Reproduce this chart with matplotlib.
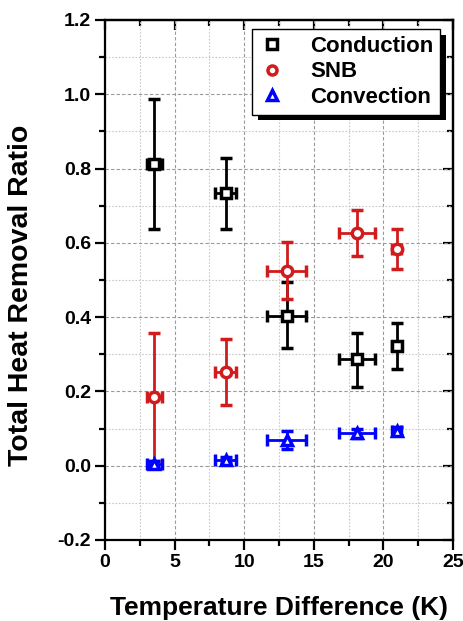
import matplotlib
matplotlib.use("Agg")
import matplotlib.pyplot as plt
import matplotlib.patheffects as pe
from matplotlib.lines import Line2D
from matplotlib.ticker import MultipleLocator, FormatStrFormatter

plt.rcParams['font.family'] = ['Liberation Sans', 'DejaVu Sans']
plt.rcParams['font.weight'] = 'bold'

# Data
temp_diff = [3.54, 8.67, 13.05, 18.13, 20.95]
temp_err = [0.55, 0.75, 1.4, 1.3, 0.35]

conduction = [0.811, 0.733, 0.403, 0.286, 0.323]
conduction_err_low = [0.175, 0.096, 0.087, 0.073, 0.063]
conduction_err_high = [0.176, 0.096, 0.091, 0.070, 0.060]

snb = [0.184, 0.252, 0.525, 0.627, 0.583]
snb_err = [0.172, 0.088, 0.077, 0.062, 0.053]

convection = [0.004, 0.015, 0.069, 0.087, 0.094]
convection_err = [0.008, 0.008, 0.025, 0.012, 0.010]

labels = ['Conduction', 'SNB', 'Convection']
colors = ['#000000', '#d01c1c', '#0000ff']

fig = plt.figure(figsize=(4.64, 6.21), dpi=100)
ax = fig.add_axes([105/464, 81/621, 348/464, 520/621])

common = dict(linestyle='none', markersize=7.5, markeredgewidth=2.5,
              markerfacecolor='white', elinewidth=2, capsize=4.5, capthick=2)

ax.errorbar(temp_diff, conduction, yerr=[conduction_err_low, conduction_err_high],
            xerr=temp_err, marker='s', color=colors[0], zorder=3, **common)
ax.errorbar(temp_diff, snb, yerr=snb_err, xerr=temp_err,
            marker='o', color=colors[1], zorder=4, **common)
ax.errorbar(temp_diff, convection, yerr=convection_err, xerr=temp_err,
            marker='^', color=colors[2], zorder=5, **common)

ax.set_xlim(0, 25)
ax.set_ylim(-0.2, 1.2)
ax.xaxis.set_major_locator(MultipleLocator(5))
ax.xaxis.set_minor_locator(MultipleLocator(2.5))
ax.yaxis.set_major_locator(MultipleLocator(0.2))
ax.yaxis.set_minor_locator(MultipleLocator(0.1))
ax.yaxis.set_major_formatter(FormatStrFormatter('%.1f'))

ax.grid(which='major', color='#9a9a9a', linestyle=(0, (3, 2)), linewidth=0.8)
ax.grid(which='minor', color='#c8c8c8', linestyle=(0, (1.5, 1.5)), linewidth=0.8)
ax.set_axisbelow(True)

for s in ax.spines.values():
    s.set_linewidth(1.6)

ax.tick_params(which='major', direction='out', length=7, width=1.6,
               labelsize=14, top=False, right=False, pad=3)
ax.tick_params(which='minor', direction='out', length=4, width=1.6,
               top=False, right=False)
for lab in ax.get_xticklabels() + ax.get_yticklabels():
    lab.set_fontweight('bold')

secx = ax.secondary_xaxis('top')
secx.xaxis.set_major_locator(MultipleLocator(5))
secx.xaxis.set_minor_locator(MultipleLocator(2.5))
secx.tick_params(which='major', direction='in', length=7, width=1.6, labeltop=False)
secx.tick_params(which='minor', direction='in', length=4, width=1.6)
secx.spines['top'].set_linewidth(1.6)

secy = ax.secondary_yaxis('right')
secy.yaxis.set_major_locator(MultipleLocator(0.2))
secy.yaxis.set_minor_locator(MultipleLocator(0.1))
secy.tick_params(which='major', direction='in', length=7, width=1.6, labelright=False)
secy.tick_params(which='minor', direction='in', length=4, width=1.6)
secy.spines['right'].set_linewidth(1.6)

ax.set_xlabel('Temperature Difference (K)', fontsize=19, fontweight='bold', labelpad=18)
ax.set_ylabel('Total Heat Removal Ratio', fontsize=20.5, fontweight='bold')
ax.yaxis.set_label_coords(-0.205, 0.471)

handles = [Line2D([], [], linestyle='none', marker=m, markersize=6.5, markeredgewidth=2.5,
                  markerfacecolor='white', color=c)
           for m, c in zip(['s', 'o', '^'], colors)]
leg = ax.legend(handles, labels, loc='upper right', bbox_to_anchor=(0.963, 0.982),
                borderaxespad=0, prop={'weight': 'bold', 'size': 16},
                handlelength=1.2, handletextpad=1.1, borderpad=0.3,
                labelspacing=0.2, fancybox=False, framealpha=1, edgecolor='black')
leg.get_frame().set_linewidth(1.0)
leg.get_frame().set_path_effects([pe.SimplePatchShadow(offset=(4, -4), shadow_rgbFace='black',
                                                       alpha=1.0), pe.Normal()])
leg.set_zorder(10)

fig.savefig('out.png', dpi=100)
